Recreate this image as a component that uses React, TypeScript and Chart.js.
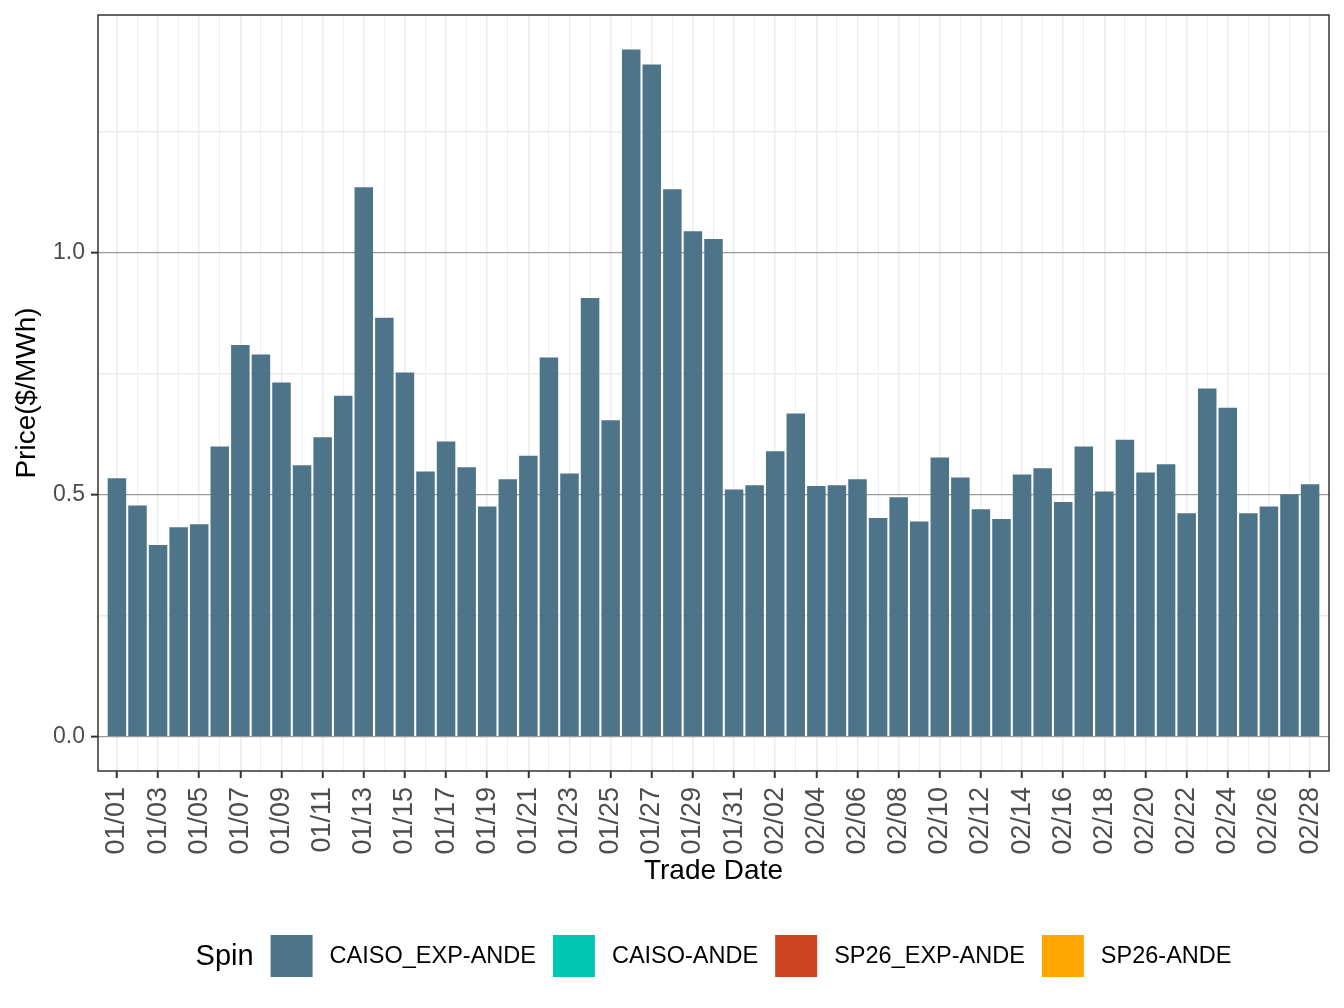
import React, { useEffect, useRef } from 'react';
import { Chart, registerables } from 'chart.js';

Chart.register(...registerables);

const FONT = '"Liberation Sans", Arial, Helvetica, sans-serif';

const tradeDates = [
  '01/01', '01/02', '01/03', '01/04', '01/05', '01/06', '01/07', '01/08', '01/09', '01/10',
  '01/11', '01/12', '01/13', '01/14', '01/15', '01/16', '01/17', '01/18', '01/19', '01/20',
  '01/21', '01/22', '01/23', '01/24', '01/25', '01/26', '01/27', '01/28', '01/29', '01/30',
  '01/31', '02/01', '02/02', '02/03', '02/04', '02/05', '02/06', '02/07', '02/08', '02/09',
  '02/10', '02/11', '02/12', '02/13', '02/14', '02/15', '02/16', '02/17', '02/18', '02/19',
  '02/20', '02/21', '02/22', '02/23', '02/24', '02/25', '02/26', '02/27', '02/28',
];

const caisoExpAnde = [
  0.534, 0.478, 0.396, 0.433, 0.439, 0.600, 0.810, 0.790, 0.732, 0.561,
  0.619, 0.705, 1.136, 0.866, 0.753, 0.548, 0.610, 0.557, 0.476, 0.532,
  0.581, 0.784, 0.544, 0.907, 0.654, 1.421, 1.390, 1.132, 1.045, 1.029,
  0.511, 0.520, 0.590, 0.668, 0.518, 0.520, 0.532, 0.452, 0.495, 0.445,
  0.577, 0.536, 0.470, 0.450, 0.542, 0.555, 0.485, 0.600, 0.507, 0.614,
  0.546, 0.563, 0.462, 0.720, 0.680, 0.462, 0.476, 0.501, 0.522,
];

const yTickValues = [0, 0.25, 0.5, 0.75, 1.0, 1.25];
const yTickLabels = ['0.0', '', '0.5', '', '1.0', ''];

const legendTitle = 'Spin';
const legendNames = ['CAISO_EXP-ANDE', 'CAISO-ANDE', 'SP26_EXP-ANDE', 'SP26-ANDE'];
const legendColors = ['#4E7489', '#00C6B2', '#D04521', '#FFA500'];

const xAxisTitle = 'Trade Date';
const yAxisTitle = 'Price($/MWh)';

const panelBorderPlugin = {
  id: 'panelBorder',
  afterDatasetsDraw(chart: any) {
    const { ctx, chartArea } = chart;
    ctx.save();
    ctx.strokeStyle = '#333333';
    ctx.lineWidth = 1.5;
    ctx.strokeRect(chartArea.left, chartArea.top, chartArea.right - chartArea.left, chartArea.bottom - chartArea.top);
    ctx.restore();
  },
};

const ggLegendPlugin = {
  id: 'ggLegend',
  afterDraw(chart: any) {
    const { ctx, chartArea } = chart;
    ctx.save();
    const titleFont = `29px ${FONT}`;
    const labelFont = `23.5px ${FONT}`;
    ctx.font = titleFont;
    const tw = ctx.measureText(legendTitle).width;
    ctx.font = labelFont;
    const lws = legendNames.map((n) => ctx.measureText(n).width);
    const gap = 17;
    const box = 42;
    const total = tw + legendNames.length * (box + 2 * gap) + lws.reduce((a, b) => a + b, 0);
    let x = (chartArea.left + chartArea.right) / 2 - total / 2;
    const cy = 956;
    ctx.textBaseline = 'middle';
    ctx.textAlign = 'left';
    ctx.fillStyle = '#000000';
    ctx.font = titleFont;
    ctx.fillText(legendTitle, x, cy + 1);
    x += tw + gap;
    legendNames.forEach((n, i) => {
      ctx.fillStyle = legendColors[i];
      ctx.fillRect(x, cy - box / 2, box, box);
      x += box + gap;
      ctx.fillStyle = '#000000';
      ctx.font = labelFont;
      ctx.fillText(n, x, cy + 1);
      x += lws[i] + gap;
    });
    ctx.restore();
  },
};

const isMajorY = (v: number) => Math.abs(v) < 1e-9 || Math.abs(v - 0.5) < 1e-9 || Math.abs(v - 1) < 1e-9;

const clearScalePadding = (s: any) => {
  s.paddingTop = 0;
  s.paddingBottom = 0;
  s.paddingLeft = 0;
  s.paddingRight = 0;
};

export default function App() {
  const canvasRef = useRef<HTMLCanvasElement | null>(null);

  useEffect(() => {
    document.body.style.margin = '0';
    const canvas = canvasRef.current;
    if (!canvas) return;
    const chart = new Chart(canvas, {
      type: 'bar',
      data: {
        datasets: [
          {
            label: legendNames[0],
            data: caisoExpAnde.map((v, i) => ({ x: i, y: v })),
            backgroundColor: legendColors[0],
            barPercentage: 0.9,
            categoryPercentage: 1,
            grouped: false,
          } as any,
        ],
      },
      options: {
        responsive: false,
        animation: false,
        devicePixelRatio: 1,
        layout: { padding: { top: 15, right: 15, left: 0, bottom: 108 } },
        plugins: {
          legend: { display: false },
          tooltip: { enabled: false },
        },
        scales: {
          x: {
            type: 'linear',
            offset: false,
            min: -0.92,
            max: 58.92,
            afterBuildTicks: (s: any) => {
              s.ticks = tradeDates.map((_, i) => ({ value: i }));
            },
            afterFit: (s: any) => {
              s.height = 129;
              clearScalePadding(s);
            },
            ticks: {
              autoSkip: false,
              minRotation: 90,
              maxRotation: 90,
              padding: 9,
              color: '#4D4D4D',
              font: { family: FONT, size: 27 },
              callback: (v: any) => (Number(v) % 2 === 0 ? tradeDates[Number(v)] : ''),
            },
            grid: {
              offset: false,
              color: (c: any) => (c.tick && c.tick.value % 2 === 0 ? '#EBEBEB' : '#F0F0F0'),
              lineWidth: (c: any) => (c.tick && c.tick.value % 2 === 0 ? 1.5 : 1),
              tickLength: 7,
              tickWidth: 2,
              tickColor: (c: any) => (c.tick && c.tick.value % 2 === 0 ? '#333333' : 'rgba(0,0,0,0)'),
            },
            border: { display: false },
            title: {
              display: true,
              text: xAxisTitle,
              color: '#000000',
              font: { family: FONT, size: 28 },
              padding: { top: 0, bottom: 12 },
            },
          } as any,
          y: {
            type: 'linear',
            min: -0.0711,
            max: 1.4921,
            afterBuildTicks: (s: any) => {
              s.ticks = yTickValues.map((v) => ({ value: v }));
            },
            afterFit: (s: any) => {
              s.width = 98;
              clearScalePadding(s);
            },
            ticks: {
              padding: 6,
              color: '#4D4D4D',
              font: { family: FONT, size: 23 },
              callback: (_v: any, i: number) => yTickLabels[i],
            },
            grid: {
              color: (c: any) => (c.tick && isMajorY(c.tick.value) ? '#9A9A9A' : '#EBEBEB'),
              lineWidth: (c: any) => (c.tick && isMajorY(c.tick.value) ? 1.3 : 1.5),
              tickLength: 7,
              tickWidth: 2,
              tickColor: (c: any) => (c.tick && isMajorY(c.tick.value) ? '#333333' : 'rgba(0,0,0,0)'),
            },
            border: { display: false },
            title: {
              display: true,
              text: yAxisTitle,
              color: '#000000',
              font: { family: FONT, size: 28 },
              padding: { top: 10, bottom: 0 },
            },
          } as any,
        },
      },
      plugins: [panelBorderPlugin, ggLegendPlugin],
    });
    return () => {
      chart.destroy();
    };
  }, []);

  return (
    <div style={{ width: 1344, height: 1008, background: '#ffffff' }}>
      <canvas ref={canvasRef} width={1344} height={1008} style={{ display: 'block' }} />
    </div>
  );
}
